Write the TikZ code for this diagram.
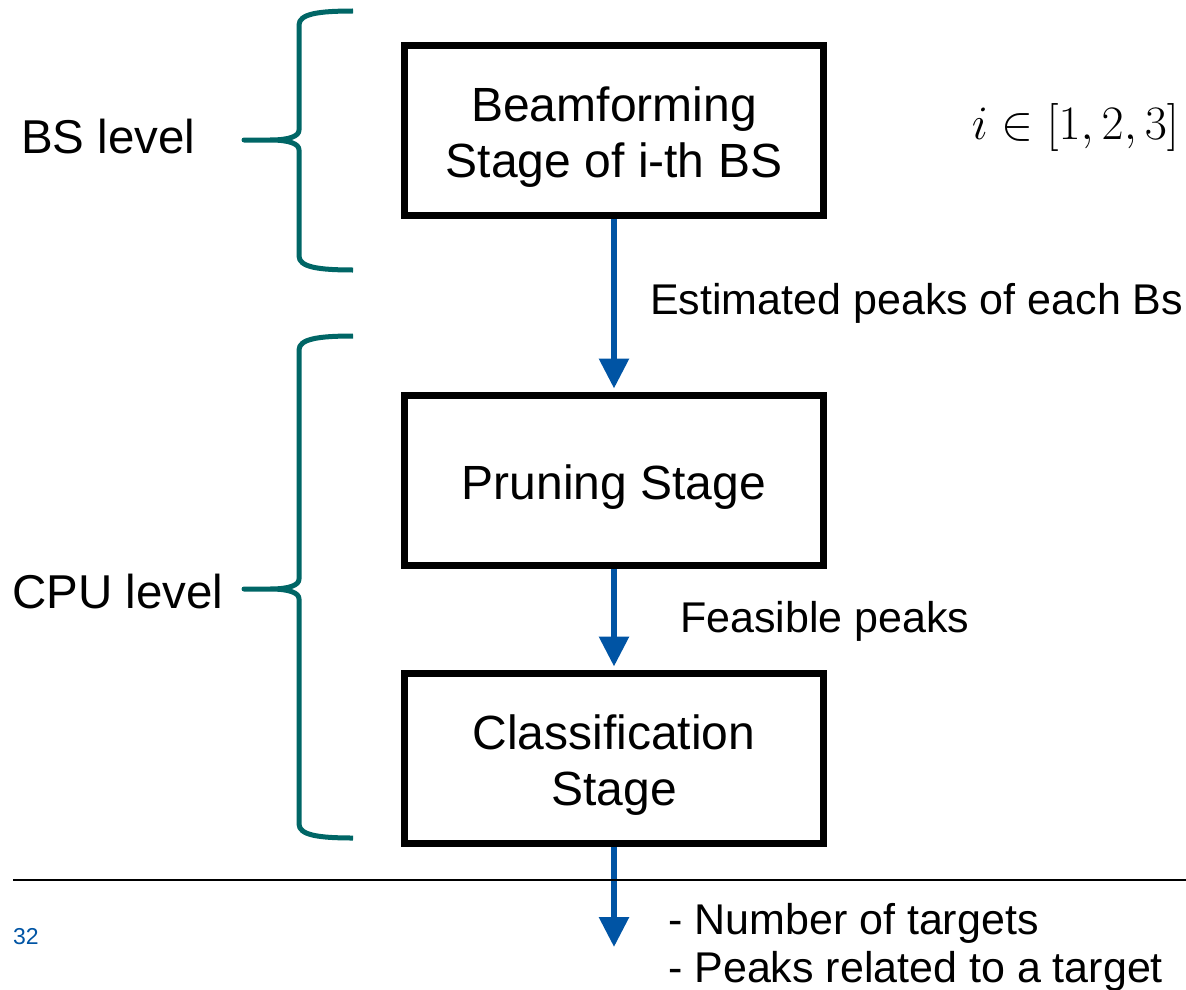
\RequirePackage{fix-cm}
\documentclass[tikz,border=0pt]{standalone}
\usepackage{fontspec}
\setmainfont{Liberation Sans}
\usetikzlibrary{arrows.meta}
\definecolor{braceteal}{RGB}{0,102,102}
\definecolor{flowblue}{RGB}{0,84,164}
\tikzset{
  stagebox/.style={draw=black, line width=7pt, minimum width=419pt, minimum height=170pt,
    inner sep=0pt},
  stagetext/.style={align=center, inner sep=0pt, yshift=-7pt, font=\fontsize{48}{56}\selectfont},
  flow/.style={draw=flowblue, line width=6pt, shorten >=3.5pt,
    -{Triangle[width=29pt,length=30pt]}},
  levelbrace/.style={draw=braceteal, line width=5pt, line join=round, line cap=butt},
  levellabel/.style={anchor=base west, inner sep=0pt, font=\fontsize{47.5}{56}\selectfont},
  flowlabel/.style={anchor=base west, inner sep=0pt, font=\fontsize{43}{48}\selectfont, align=left}
}
\begin{document}
\begin{tikzpicture}[x=1pt, y=-1pt]
\useasboundingbox (0,0) rectangle (1186,990);

% processing stages
\node[stagebox, label={[stagetext]center:Beamforming\\Stage of i-th BS}] (beam)  at (614,130.5) {};
\node[stagebox, label={[stagetext]center:Pruning Stage}] (prune) at (614,480.5) {};
\node[stagebox, label={[stagetext]center:Classification\\Stage}] (class) at (614,758.5) {};
\coordinate (out) at (614,947);

% flow between the stages
\draw[flow] (beam.south)  -- (prune.north);
\draw[flow] (prune.south) -- (class.north);
\draw[flow, shorten >=0pt] (class.south) -- (out);

% labels on the flow
\node[flowlabel] (lbl1) at (650,314) {Estimated peaks of each Bs};
\node[flowlabel] (lbl2) at (680,632) {Feasible peaks};
\node[flowlabel] (lbl3) at (668,982) {- Number of targets\\- Peaks related to a target};

% index range
\node[anchor=base east, inner sep=0pt, font=\fontsize{48}{56}\selectfont] (idx) at (1179,139) {$i\in[1,2,3]$};

% level braces
\draw[levelbrace] (353,11) .. controls (318,11) and (299,14) .. (299,25)
  -- (299,130) .. controls (299,136) and (290,140) .. (270,140) -- (244,140)
  -- (270,140) .. controls (290,140) and (299,144) .. (299,150)
  -- (299,256) .. controls (299,267) and (318,270) .. (353,270);
\draw[levelbrace] (353,336) .. controls (318,336) and (299,339) .. (299,350)
  -- (299,579) .. controls (299,585) and (290,589) .. (270,589) -- (244,589)
  -- (270,589) .. controls (290,589) and (299,593) .. (299,599)
  -- (299,824) .. controls (299,835) and (318,838) .. (353,838);

\node[levellabel] (bs)  at (21,153) {BS level};
\node[levellabel] (cpu) at (12,608) {CPU level};

% footer rule and page number
\draw[line width=1.5pt] (13,880) -- (1186,880);
\node[anchor=base west, inner sep=0pt, text=flowblue, font=\fontsize{23}{28}\selectfont] (page) at (13,944) {32};
\end{tikzpicture}
\end{document}
